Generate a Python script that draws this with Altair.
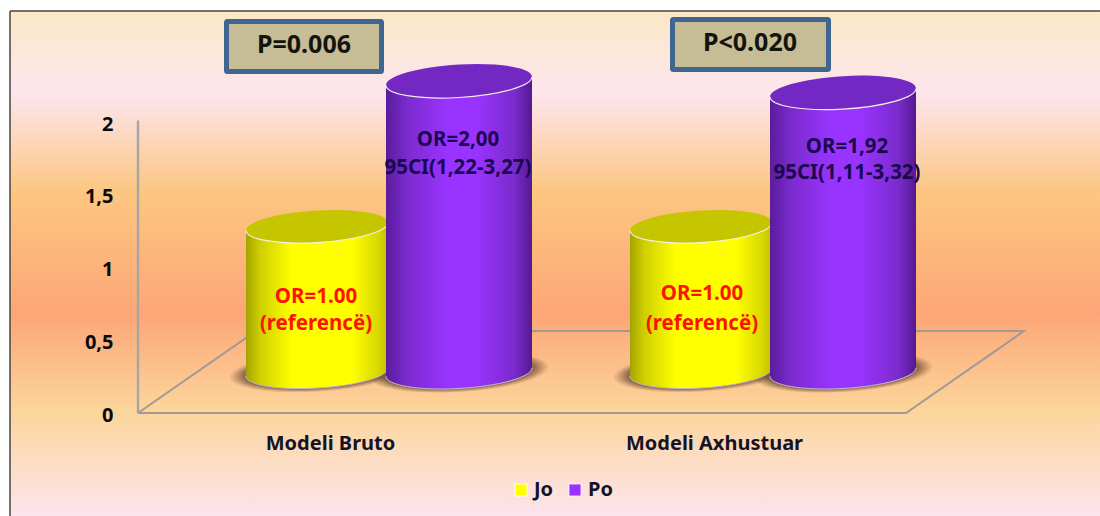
import altair as alt
import pandas as pd

# Chart values
models = ["Modeli Bruto", "Modeli Axhustuar"]
series = ["Jo", "Po"]
jo_or = [1.00, 1.00]
po_or = [2.00, 1.92]
jo_labels = ["OR=1.00\n(referencë)", "OR=1.00\n(referencë)"]
po_labels = ["OR=2,00\n95CI(1,22-3,27)", "OR=1,92\n95CI(1,11-3,32)"]
p_labels = ["P=0.006", "P<0.020"]
y_ticks = [0, 0.5, 1, 1.5, 2]

FONT = "Noto Sans"
W, H = 1100, 516

# One x unit is one model band, one y unit is one odds-ratio unit
X_UNIT, Y_UNIT = 384.0, 145.5
X0, Y0 = 138.0, 413.0
x_scale = alt.Scale(domain=[-X0 / X_UNIT, (W - X0) / X_UNIT], range=[0, W], nice=False, zero=False)
y_scale = alt.Scale(domain=[(Y0 - H) / Y_UNIT, Y0 / Y_UNIT], range=[H, 0], nice=False, zero=False)

x_axis = alt.Axis(
    title=None, orient="bottom", offset=-(H - Y0), values=[0.5, 1.5], domain=False, ticks=False, grid=False,
    labelExpr=f"datum.value < 1 ? '{models[0]}' : '{models[1]}'",
    labelFont=FONT, labelFontSize=20, labelFontWeight="bold", labelColor="#141428", labelPadding=20, zindex=1,
    labelOverlap=False,
)
y_axis = alt.Axis(
    title=None, orient="left", offset=-X0, values=y_ticks, domain=False, ticks=False, grid=False,
    labelExpr="replace(format(datum.value, '~g'), '.', ',')",
    labelFont=FONT, labelFontSize=20, labelFontWeight="bold", labelColor="#0a0a0a", labelPadding=25, labelOffset=2,
    zindex=1,
)

# Half of the floor depth: the cylinders stand in the middle of the floor
DEPTH_X, DEPTH_Y = 59 / X_UNIT, 41 / Y_UNIT
SHEAR_Y = 4.2 / Y_UNIT
STYLE = {
    "Jo": dict(shift=-72 / X_UNIT, half=71 / X_UNIT, cap="#c6c600",
               stops=[(0, "#a3a300"), (0.1, "#cfcf00"), (0.32, "#ffff00"), (0.75, "#ffff00"), (0.93, "#d8d800"), (1, "#c0c000")]),
    "Po": dict(shift=70 / X_UNIT, half=73 / X_UNIT, cap="#7328c4",
               stops=[(0, "#5a1c9c"), (0.14, "#7a2bcc"), (0.42, "#9933ff"), (0.62, "#9933ff"), (0.88, "#7a2bcc"), (1, "#56198f")]),
}


def gradient_x(stops):
    return alt.LinearGradient(
        gradient="linear", x1=0, y1=0, x2=1, y2=0,
        stops=[alt.GradientStop(color=c, offset=o) for o, c in stops],
    )


def xe(field):
    return alt.X(field, type="quantitative", scale=x_scale, axis=x_axis)


def ye(field):
    return alt.Y(field, type="quantitative", scale=y_scale, axis=y_axis)


def fmt(v):
    return f"{v:.4f}"


# Tilted ellipse in symbol units (half width = 1)
RY, SH, K = 0.226, 0.057, 0.5523


def pt(x, y):
    return f"{fmt(x)},{fmt(y - SH * x)}"


FRONT_ARC = (
    f"M{pt(-1, 0)}C{pt(-1, K * RY)} {pt(-K, RY)} {pt(0, RY)}"
    f"C{pt(K, RY)} {pt(1, K * RY)} {pt(1, 0)}"
)
ELLIPSE = FRONT_ARC + (
    f"C{pt(1, -K * RY)} {pt(K, -RY)} {pt(0, -RY)}"
    f"C{pt(-K, -RY)} {pt(-1, -K * RY)} {pt(-1, 0)}Z"
)

rows = []
for s, values in zip(series, [jo_or, po_or]):
    for i, (m, v) in enumerate(zip(models, values)):
        centre = i + 0.5 + DEPTH_X + STYLE[s]["shift"]
        rows.append(dict(model=m, series=s, value=v, centre=centre, top=v + DEPTH_Y, base=DEPTH_Y))
bars = pd.DataFrame(rows)

layers = []

# Page panel with its vertical colour bands
one = pd.DataFrame({"k": [0]})
panel_stops = [(0, "#fbe9c6"), (0.166, "#fde5ee"), (0.36, "#fcc680"), (0.6, "#fda677"), (0.79, "#fcd59b"), (1, "#fde4ee")]
layers.append(
    alt.Chart(one).mark_rect(
        fill=alt.LinearGradient(
            gradient="linear", x1=0, y1=0, x2=0, y2=1,
            stops=[alt.GradientStop(color=c, offset=o) for o, c in panel_stops],
        )
    ).encode(x=alt.value(10), x2=alt.value(W), y=alt.value(11), y2=alt.value(H))
)
layers.append(alt.Chart(one).mark_rule(color="#444444", strokeWidth=1.5).encode(
    x=alt.value(10), y=alt.value(11), y2=alt.value(H)))
layers.append(alt.Chart(one).mark_rule(color="#444444", strokeWidth=1.5).encode(
    x=alt.value(10), x2=alt.value(W), y=alt.value(11)))

# Floor outline and wall line
floor = pd.DataFrame({
    "step": [0, 1, 2, 3, 4],
    "x": [0, 2, 2 + 2 * DEPTH_X, 2 * DEPTH_X, 0],
    "y": [0, 0, 2 * DEPTH_Y, 2 * DEPTH_Y, 0],
})
layers.append(alt.Chart(floor).mark_line(color="#a09a96", strokeWidth=2).encode(
    x=xe("x"), y=ye("y"), order=alt.Order("step:Q")))
wall = pd.DataFrame({"x": [0, 0], "y": [0, 2.01]})
layers.append(alt.Chart(wall).mark_line(color="#a6a6a6", strokeWidth=2.4).encode(
    x=xe("x"), y=ye("y"), order=alt.Order("y:Q")))

# Soft shadows under the cylinders
for s in series:
    half_px = STYLE[s]["half"] * X_UNIT
    for extra, alpha in [(16, 0.12), (13, 0.16), (10, 0.2), (7, 0.26), (4, 0.34)]:
        layers.append(
            alt.Chart(bars[bars.series == s]).mark_point(
                shape=ELLIPSE, filled=True, fill="#6e4c38", stroke=None, opacity=alpha,
                size=(2 * (half_px + extra)) ** 2,
            ).encode(x=xe("centre"), y=ye("base"))
        )

# Cylinders: base cap, sheared body, top cap, light rims
for s in series:
    st = STYLE[s]
    half_px = st["half"] * X_UNIT
    size = (2 * half_px) ** 2
    grad = gradient_x(st["stops"])
    sub = bars[bars.series == s]
    body = pd.concat([
        sub.assign(edge=e, x=sub.centre + e * st["half"], y=sub.top + e * SHEAR_Y, y0=sub.base + e * SHEAR_Y)
        for e in (-1, 1)
    ])
    layers.append(alt.Chart(sub).mark_point(shape=ELLIPSE, filled=True, fill=grad, stroke=None, opacity=1, size=size).encode(
        x=xe("centre"), y=ye("base")))
    layers.append(alt.Chart(body).mark_area(fill=grad, line=False).encode(
        x=xe("x"), y=ye("y"), y2=alt.Y2("y0:Q"), detail="model:N"))
    layers.append(alt.Chart(sub).mark_point(shape=FRONT_ARC, filled=False, stroke="#c4b8c8", strokeWidth=1, opacity=1, size=size).encode(
        x=xe("centre"), y=ye("base")))
    layers.append(alt.Chart(sub).mark_point(shape=ELLIPSE, filled=True, fill=st["cap"], stroke=None, opacity=1, size=size).encode(
        x=xe("centre"), y=ye("top")))
    layers.append(alt.Chart(sub).mark_point(shape=FRONT_ARC, filled=False, stroke="#f2eee8", strokeWidth=1.2, opacity=1, size=size).encode(
        x=xe("centre"), y=ye("top")))

# Cylinder captions, nudged individually from each cylinder's top
captions = [
    ("Jo", models[0], jo_labels[0], "#ff1200", -1, 70, 27),
    ("Jo", models[1], jo_labels[1], "#ff1200", 1, 67, 30),
    ("Po", models[0], po_labels[0], "#1c0850", -1, 59, 28),
    ("Po", models[1], po_labels[1], "#1c0850", 4, 54, 26),
]
for s, m, text, colour, dx, dy, line_height in captions:
    row = bars[(bars.series == s) & (bars.model == m)].assign(caption=text)
    layers.append(
        alt.Chart(row).mark_text(
            font=FONT, fontSize=20.5, fontWeight="bold", color=colour, lineBreak="\n",
            lineHeight=line_height, dx=dx, dy=dy, baseline="middle", align="center",
        ).encode(x=xe("centre"), y=ye("top"), text="caption:N")
    )

# P-value boxes
boxes = [(226.5, 381.5, 21.5, 71.5, 304, 45), (672.5, 828.5, 19.5, 69.5, 750, 43)]
for label, (bx0, bx1, by0, by1, tx, ty) in zip(p_labels, boxes):
    layers.append(alt.Chart(one).mark_rect(fill="#c6bc96", stroke="#3f6590", strokeWidth=5, cornerRadius=1).encode(
        x=alt.value(bx0), x2=alt.value(bx1), y=alt.value(by0), y2=alt.value(by1)))
    layers.append(alt.Chart(pd.DataFrame({"t": [label]})).mark_text(
        font=FONT, fontSize=25, fontWeight="bold", color="#14140f", baseline="middle", align="center",
    ).encode(x=alt.value(tx), y=alt.value(ty), text="t:N"))

# Legend
layers.append(
    alt.Chart(pd.DataFrame({"series": series})).mark_square(size=0, opacity=1).encode(
        fill=alt.Fill("series:N", scale=alt.Scale(domain=series, range=["#ffff00", "#9933ff"]), legend=alt.Legend(
            orient="none", legendX=511, legendY=480, direction="horizontal", title=None,
            symbolType="square", symbolSize=150, symbolStrokeColor="#ffffff", symbolStrokeWidth=1, symbolOpacity=1,
            labelFont=FONT, labelFontSize=20, labelFontWeight="bold", labelColor="#141428",
            columnPadding=11, labelOffset=3,
        ))
    )
)

chart = alt.layer(*layers).properties(
    width=W, height=H, padding=0, autosize=alt.AutoSizeParams(type="none"), background="#ffffff",
).configure_view(stroke=None)

chart.save("out.html", embed_options={"renderer": "svg", "actions": False})
